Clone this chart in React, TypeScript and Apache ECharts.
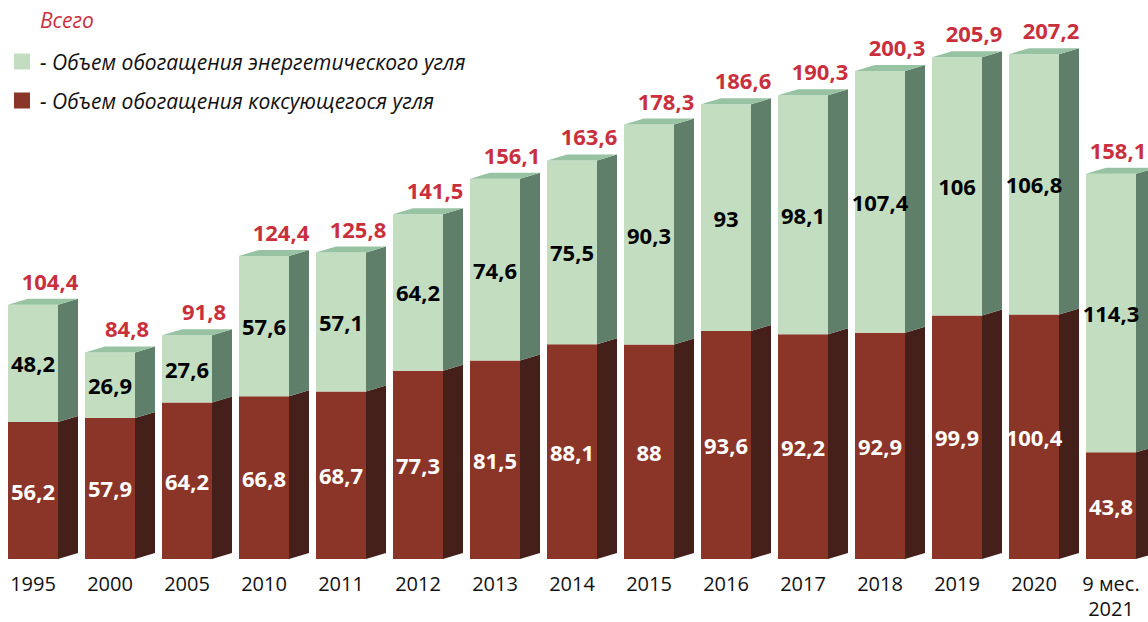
import React, { useEffect, useRef } from "react";
import * as echarts from "echarts";

const categories = ["1995", "2000", "2005", "2010", "2011", "2012", "2013", "2014", "2015", "2016", "2017", "2018", "2019", "2020", "9 мес.\n2021"];
const coking = [56.2, 57.9, 64.2, 66.8, 68.7, 77.3, 81.5, 88.1, 88, 93.6, 92.2, 92.9, 99.9, 100.4, 43.8];
const energy = [48.2, 26.9, 27.6, 57.6, 57.1, 64.2, 74.6, 75.5, 90.3, 93, 98.1, 107.4, 106, 106.8, 114.3];
const totals = [104.4, 84.8, 91.8, 124.4, 125.8, 141.5, 156.1, 163.6, 178.3, 186.6, 190.3, 200.3, 205.9, 207.2, 158.1];

const titleText = "Всего";
const energyName = "- Объем обогащения энергетического угля";
const cokingName = "- Объем обогащения коксующегося угля";

const FONT = "'Open Sans', 'Noto Sans', sans-serif";
const GREEN = { front: "#c3ddc1", side: "#5f7f6b", top: "#97c3a2" };
const RED = { front: "#8b3528", side: "#45201a", top: "#a0483a" };
const TOTAL_COLOR = "#c9303e";

const FRONT = 50;
const DX = 20;
const DY = 6;

const fmt = (v: number) => String(v).replace(".", ",");

function makeRender(colors: { front: string; side: string; top: string }, isTop: boolean, labelColor: string) {
  return (params: any, api: any) => {
    const i = api.value(0);
    const base = api.value(1);
    const val = api.value(2);
    const total = api.value(3);
    const c = api.coord([i, 0])[0];
    const yb = api.coord([i, base])[1];
    const yt = api.coord([i, base + val])[1];
    const fl = c - FRONT / 2;
    const fr = fl + FRONT;
    const children: any[] = [
      {
        type: "rect",
        shape: { x: fl, y: yt, width: FRONT, height: yb - yt },
        style: { fill: colors.front },
      },
      {
        type: "polygon",
        shape: { points: [[fr, yt], [fr + DX, yt - DY], [fr + DX, yb - DY], [fr, yb]] },
        style: { fill: colors.side },
      },
      {
        type: "text",
        x: c,
        y: (yt + yb) / 2,
        style: {
          text: fmt(val),
          fill: labelColor,
          font: `bold 22px ${FONT}`,
          align: "center",
          verticalAlign: "middle",
        },
      },
    ];
    if (isTop) {
      children.push({
        type: "polygon",
        shape: { points: [[fl, yt], [fl + DX, yt - DY], [fr + DX, yt - DY], [fr, yt]] },
        style: { fill: colors.top },
      });
      children.push({
        type: "text",
        x: Math.min(fl + 42, api.getWidth() - 30),
        y: yt - 24,
        style: {
          text: fmt(total),
          fill: TOTAL_COLOR,
          font: `bold 22px ${FONT}`,
          align: "center",
          verticalAlign: "middle",
        },
      });
    }
    return { type: "group", children };
  };
}

export default function App() {
  const ref = useRef<HTMLDivElement>(null);
  useEffect(() => {
    if (!ref.current) return;
    const chart = echarts.init(ref.current, undefined, { renderer: "svg" });
    chart.setOption({
      animation: false,
      backgroundColor: "#ffffff",
      title: {
        text: titleText,
        left: 35,
        top: 4,
        textStyle: { fontFamily: FONT, fontSize: 21, fontStyle: "italic", fontWeight: "normal", color: TOTAL_COLOR },
      },
      legend: {
        orient: "vertical",
        left: 9,
        top: 46,
        itemWidth: 16,
        itemHeight: 16,
        itemGap: 18,
        icon: "rect",
        selectedMode: false,
        textStyle: { fontFamily: FONT, fontSize: 21, fontStyle: "italic", color: "#111", padding: [0, 0, 0, 5] },
        data: [
          { name: energyName, itemStyle: { color: GREEN.front } },
          { name: cokingName, itemStyle: { color: RED.front } },
        ],
      },
      grid: { left: -5.5, width: 77 * 15, top: 23, bottom: 63, containLabel: false, outerBoundsMode: "none" },
      xAxis: {
        type: "category",
        data: categories,
        axisLine: { show: false },
        axisTick: { show: false },
        axisLabel: {
          interval: 0,
          margin: 12,
          fontFamily: FONT,
          fontSize: 20,
          lineHeight: 25,
          color: "#111",
        },
      },
      yAxis: { type: "value", min: 0, max: 220, show: false, splitLine: { show: false } },
      series: [
        {
          type: "custom",
          name: cokingName,
          itemStyle: { color: RED.front },
          encode: { x: 0, y: 2 },
          renderItem: makeRender(RED, false, "#ffffff"),
          data: coking.map((v, i) => [i, 0, v, totals[i]]),
        },
        {
          type: "custom",
          name: energyName,
          itemStyle: { color: GREEN.front },
          encode: { x: 0, y: 2 },
          renderItem: makeRender(GREEN, true, "#000000"),
          data: energy.map((v, i) => [i, coking[i], v, totals[i]]),
        },
      ],
    });
    return () => chart.dispose();
  }, []);
  return <div ref={ref} style={{ position: "absolute", left: 0, top: 0, width: 1148, height: 622 }} />;
}
